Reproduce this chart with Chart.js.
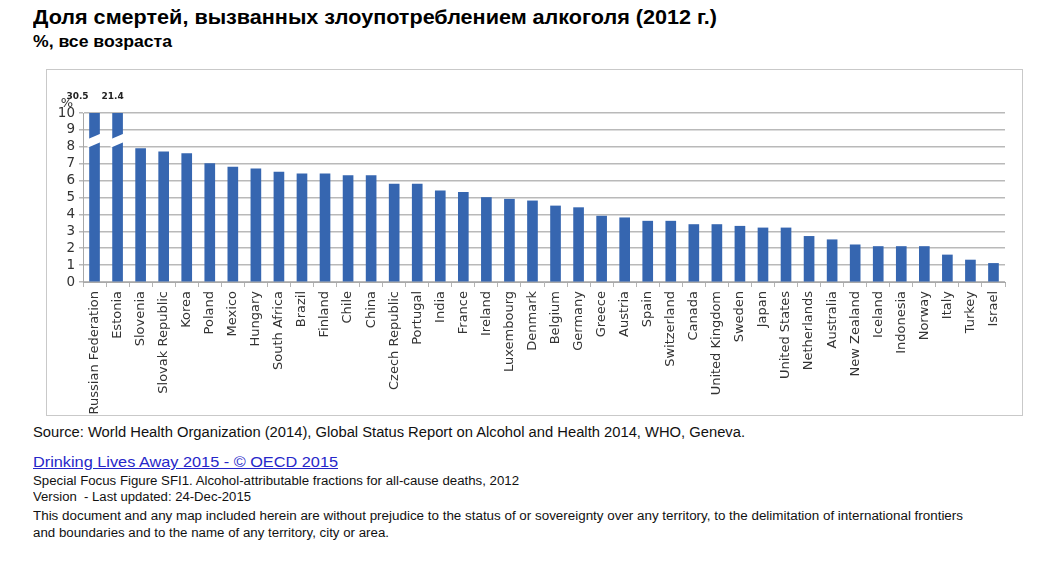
<!DOCTYPE html>
<html>
<head>
<meta charset="utf-8">
<script src="https://cdn.jsdelivr.net/npm/chart.js@4"></script>
<style>
    body { margin: 0; background: #fff; width: 1045px; height: 577px; position: relative; overflow: hidden; }
    .line { position: absolute; left: 33px; white-space: nowrap; font-family: "Liberation Sans", Arial, sans-serif; color: #111; }
    .fit { display: inline-block; transform-origin: 0 0; }
    #title { top: 6px; font-size: 20px; font-weight: bold; color: #000; }
    #subtitle { top: 33px; font-size: 16px; font-weight: bold; color: #000; }
    #source { top: 424px; font-size: 14px; }
    #link { top: 453px; font-size: 15px; color: #2626c9; }
    #link .fit { text-decoration: underline; }
    .small { font-size: 12.5px; }
    #chartBox { position: absolute; left: 46px; top: 69px; width: 977px; height: 347px; border: 1px solid #c9c9c9; box-sizing: border-box; }
</style>
</head>
<body>
<div class="line" id="title"><span class="fit" data-w="684">Доля смертей, вызванных злоупотреблением алкоголя (2012 г.)</span></div>
<div class="line" id="subtitle"><span class="fit" data-w="139">%, все возраста</span></div>

<div id="chartBox"><canvas id="deathsChart"></canvas></div>

<div class="line" id="source"><span class="fit" data-w="712">Source: World Health Organization (2014), Global Status Report on Alcohol and Health 2014, WHO, Geneva.</span></div>
<div class="line" id="link"><span class="fit" data-w="305">Drinking Lives Away 2015 - © OECD 2015</span></div>
<div class="line small" style="top: 474px;"><span class="fit" data-w="486">Special Focus Figure SFI1. Alcohol-attributable fractions for all-cause deaths, 2012</span></div>
<div class="line small" style="top: 490px;"><span class="fit" data-w="218">Version&nbsp; - Last updated: 24-Dec-2015</span></div>
<div class="line small" style="top: 509px;"><span class="fit" data-w="930">This document and any map included herein are without prejudice to the status of or sovereignty over any territory, to the delimitation of international frontiers</span></div>
<div class="line small" style="top: 526px;"><span class="fit" data-w="356">and boundaries and to the name of any territory, city or area.</span></div>

<script>
// chart data
const countries = [
    'Russian Federation', 'Estonia', 'Slovenia', 'Slovak Republic', 'Korea', 'Poland',
    'Mexico', 'Hungary', 'South Africa', 'Brazil', 'Finland', 'Chile', 'China',
    'Czech Republic', 'Portugal', 'India', 'France', 'Ireland', 'Luxembourg', 'Denmark',
    'Belgium', 'Germany', 'Greece', 'Austria', 'Spain', 'Switzerland', 'Canada',
    'United Kingdom', 'Sweden', 'Japan', 'United States', 'Netherlands', 'Australia',
    'New Zealand', 'Iceland', 'Indonesia', 'Norway', 'Italy', 'Turkey', 'Israel'
];
const shares = [
    30.5, 21.4, 7.9, 7.7, 7.6, 7.0,
    6.8, 6.7, 6.5, 6.4, 6.4, 6.3, 6.3,
    5.8, 5.8, 5.4, 5.3, 5.0, 4.9, 4.8,
    4.5, 4.4, 3.9, 3.8, 3.6, 3.6, 3.4,
    3.4, 3.3, 3.2, 3.2, 2.7, 2.5,
    2.2, 2.1, 2.1, 2.1, 1.6, 1.3, 1.1
];
const yMin = 0;
const yMax = 10;
const yStep = 1;
const unitLabel = '%';

// bars taller than the axis get a white cut and their real value on top
const brokenBars = {
    id: 'brokenBars',
    afterDatasetsDraw(chart) {
        const ctx = chart.ctx;
        const y = chart.scales.y;
        const area = chart.chartArea;
        const bars = chart.getDatasetMeta(0).data;
        let n = 0;

        ctx.save();
        bars.forEach((bar, i) => {
            if (shares[i] <= yMax) return;
            const x0 = bar.x - bar.width / 2 - 2;
            const x1 = bar.x + bar.width / 2 + 2;
            ctx.fillStyle = '#fff';
            ctx.beginPath();
            ctx.moveTo(x0, y.getPixelForValue(7.95));
            ctx.lineTo(x1, y.getPixelForValue(8.3));
            ctx.lineTo(x1, y.getPixelForValue(8.8));
            ctx.lineTo(x0, y.getPixelForValue(8.45));
            ctx.closePath();
            ctx.fill();

            // the first label sits further left, like in the source figure
            const shift = n === 0 ? -17 : -5;
            n++;
            ctx.fillStyle = '#222';
            ctx.font = 'bold 9px "DejaVu Sans"';
            ctx.textAlign = 'center';
            ctx.textBaseline = 'middle';
            ctx.fillText(shares[i].toFixed(1), bar.x + shift, area.top - 16);
        });

        ctx.fillStyle = '#333';
        ctx.font = '13px "DejaVu Sans"';
        ctx.textAlign = 'right';
        ctx.textBaseline = 'middle';
        ctx.fillText(unitLabel, area.left - 10, area.top - 9);
        ctx.restore();
    }
};

const ctx = document.getElementById('deathsChart').getContext('2d');
new Chart(ctx, {
    type: 'bar',
    data: {
        labels: countries,
        datasets: [{
            data: shares,
            backgroundColor: '#3666b0',
            barThickness: 10
        }]
    },
    options: {
        responsive: true,
        maintainAspectRatio: false,
        animation: false,
        layout: { padding: { top: 43, right: 17, left: 0, bottom: 0 } },
        plugins: {
            legend: { display: false },
            tooltip: { enabled: false }
        },
        scales: {
            x: {
                afterFit(scale) { scale.height = 133; },
                grid: { offset: true, drawOnChartArea: false, tickLength: 5, color: '#b5b5b5' },
                border: { color: '#a8a8a8' },
                ticks: {
                    autoSkip: false,
                    minRotation: 90,
                    maxRotation: 90,
                    padding: 4,
                    color: '#333',
                    font: { family: 'DejaVu Sans', size: 13 }
                }
            },
            y: {
                min: yMin,
                max: yMax,
                afterFit(scale) { scale.width = 36; },
                grid: { color: '#b9b9b9', lineWidth: 1.5, tickLength: 4 },
                border: { color: '#a8a8a8' },
                ticks: {
                    stepSize: yStep,
                    autoSkip: false,
                    padding: 4,
                    color: '#333',
                    font: { family: 'DejaVu Sans', size: 13.5 }
                }
            }
        }
    },
    plugins: [brokenBars]
});

// squeeze the text lines to the widths used in the original figure
document.fonts.ready.then(() => {
    document.querySelectorAll('.fit').forEach(el => {
        const w = el.getBoundingClientRect().width;
        el.style.transform = 'scaleX(' + (el.dataset.w / w) + ')';
    });
});
</script>
</body>
</html>
